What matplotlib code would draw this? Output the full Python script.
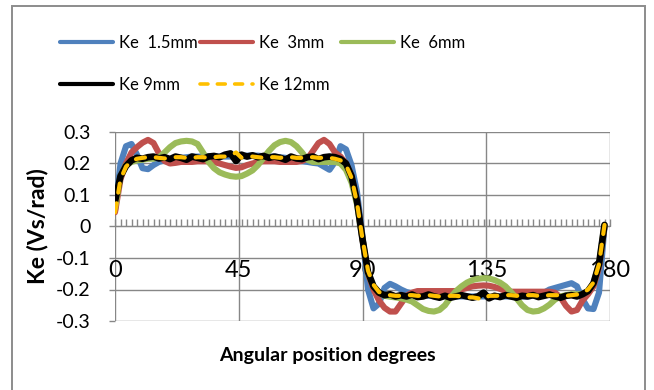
import matplotlib
matplotlib.use("Agg")
import matplotlib.pyplot as plt
from matplotlib.patches import Rectangle
from matplotlib.ticker import MultipleLocator

plt.rcParams["font.family"] = ["Lato", "DejaVu Sans"]

# angular position (degrees), one sample every 2 degrees
angle = list(range(0, 180, 2))

ke_1_5mm = [
    0.050, 0.200, 0.255, 0.262, 0.228, 0.185, 0.182, 0.195, 0.205, 0.210,
    0.212, 0.215, 0.218, 0.220, 0.222, 0.222, 0.222, 0.223, 0.222, 0.222,
    0.222, 0.222, 0.220, 0.222, 0.225, 0.225, 0.225, 0.223, 0.222, 0.222,
    0.220, 0.218, 0.215, 0.210, 0.207, 0.205, 0.202, 0.200, 0.190, 0.180,
    0.205, 0.255, 0.245, 0.195, 0.110, -0.030, -0.200, -0.260, -0.245, -0.195,
    -0.182, -0.190, -0.200, -0.208, -0.212, -0.215, -0.218, -0.220, -0.220, -0.220,
    -0.220, -0.222, -0.222, -0.222, -0.222, -0.222, -0.222, -0.222, -0.222, -0.222,
    -0.222, -0.222, -0.222, -0.222, -0.222, -0.222, -0.220, -0.218, -0.210, -0.200,
    -0.195, -0.190, -0.185, -0.180, -0.190, -0.230, -0.260, -0.262, -0.210, 0.000,
]
ke_3mm = [
    0.045, 0.150, 0.200, 0.235, 0.252, 0.266, 0.275, 0.265, 0.232, 0.208,
    0.200, 0.202, 0.205, 0.205, 0.205, 0.207, 0.207, 0.207, 0.205, 0.200,
    0.195, 0.190, 0.186, 0.188, 0.195, 0.200, 0.205, 0.207, 0.207, 0.207,
    0.205, 0.205, 0.205, 0.205, 0.208, 0.215, 0.240, 0.265, 0.275, 0.262,
    0.235, 0.222, 0.200, 0.160, 0.080, -0.040, -0.150, -0.200, -0.235, -0.258,
    -0.270, -0.270, -0.245, -0.220, -0.210, -0.205, -0.205, -0.205, -0.205, -0.205,
    -0.205, -0.205, -0.205, -0.200, -0.195, -0.190, -0.188, -0.187, -0.188, -0.192,
    -0.198, -0.205, -0.207, -0.207, -0.207, -0.207, -0.207, -0.207, -0.207, -0.207,
    -0.210, -0.225, -0.252, -0.270, -0.265, -0.235, -0.215, -0.190, -0.130, 0.000,
]
ke_6mm = [
    0.060, 0.160, 0.195, 0.205, 0.210, 0.212, 0.215, 0.215, 0.220, 0.235,
    0.252, 0.265, 0.270, 0.272, 0.270, 0.262, 0.235, 0.205, 0.185, 0.172,
    0.165, 0.160, 0.158, 0.160, 0.168, 0.178, 0.195, 0.218, 0.240, 0.258,
    0.268, 0.272, 0.268, 0.255, 0.235, 0.212, 0.205, 0.205, 0.205, 0.205,
    0.205, 0.200, 0.180, 0.140, 0.070, -0.040, -0.150, -0.190, -0.210, -0.220,
    -0.223, -0.225, -0.228, -0.232, -0.238, -0.250, -0.262, -0.268, -0.270, -0.265,
    -0.250, -0.225, -0.205, -0.190, -0.178, -0.170, -0.166, -0.164, -0.165, -0.170,
    -0.178, -0.190, -0.208, -0.228, -0.250, -0.265, -0.270, -0.268, -0.260, -0.248,
    -0.232, -0.222, -0.218, -0.215, -0.215, -0.215, -0.205, -0.180, -0.120, 0.005,
]
ke_9mm = [
    0.080, 0.160, 0.192, 0.210, 0.218, 0.215, 0.220, 0.222, 0.216, 0.220,
    0.214, 0.222, 0.218, 0.212, 0.222, 0.218, 0.214, 0.222, 0.224, 0.220,
    0.228, 0.232, 0.208, 0.228, 0.222, 0.226, 0.220, 0.224, 0.218, 0.222,
    0.218, 0.212, 0.222, 0.216, 0.214, 0.220, 0.222, 0.214, 0.220, 0.222,
    0.220, 0.214, 0.200, 0.160, 0.080, -0.040, -0.145, -0.190, -0.210, -0.218,
    -0.215, -0.222, -0.218, -0.222, -0.216, -0.224, -0.222, -0.216, -0.222, -0.226,
    -0.220, -0.226, -0.222, -0.218, -0.222, -0.226, -0.222, -0.210, -0.228, -0.220,
    -0.224, -0.218, -0.222, -0.226, -0.220, -0.222, -0.218, -0.224, -0.220, -0.216,
    -0.222, -0.226, -0.220, -0.218, -0.222, -0.215, -0.205, -0.180, -0.120, 0.005,
]
ke_12mm = [
    0.045, 0.150, 0.190, 0.208, 0.215, 0.218, 0.220, 0.220, 0.218, 0.216,
    0.218, 0.220, 0.220, 0.218, 0.218, 0.220, 0.220, 0.218, 0.220, 0.222,
    0.222, 0.225, 0.235, 0.218, 0.222, 0.222, 0.220, 0.218, 0.220, 0.220,
    0.218, 0.220, 0.220, 0.218, 0.218, 0.220, 0.220, 0.218, 0.218, 0.218,
    0.215, 0.210, 0.195, 0.155, 0.075, -0.040, -0.140, -0.185, -0.208, -0.215,
    -0.218, -0.220, -0.220, -0.218, -0.218, -0.220, -0.220, -0.218, -0.220, -0.222,
    -0.222, -0.220, -0.220, -0.222, -0.225, -0.225, -0.228, -0.232, -0.220, -0.220,
    -0.220, -0.218, -0.218, -0.220, -0.220, -0.218, -0.218, -0.220, -0.220, -0.218,
    -0.218, -0.218, -0.220, -0.218, -0.216, -0.212, -0.200, -0.178, -0.120, 0.005,
]

x_ticks = [0, 45, 90, 135, 180]
y_ticks = [-0.3, -0.2, -0.1, 0, 0.1, 0.2, 0.3]
y_tick_labels = ["-0.3", "-0.2", "-0.1", "0", "0.1", "0.2", "0.3"]

grid_col = "#878787"

fig = plt.figure(figsize=(6.54, 3.9), dpi=100)
ax = fig.add_axes([115 / 654, 1 - 321 / 390, 495 / 654, 189 / 390])

l1, = ax.plot(angle, ke_1_5mm, color="#4F81BD", lw=4.4, solid_capstyle="round", zorder=3)
l2, = ax.plot(angle, ke_3mm, color="#C0504D", lw=4.4, solid_capstyle="round", zorder=3)
l3, = ax.plot(angle, ke_6mm, color="#9BBB59", lw=4.4, solid_capstyle="round", zorder=3)
l4, = ax.plot(angle, ke_9mm, color="#000000", lw=4.8, solid_capstyle="round", zorder=4)
l5, = ax.plot(angle, ke_12mm, color="#FFC000", lw=3.0, linestyle=(0, (2.2, 2.6)),
              dash_capstyle="round", zorder=5)

ax.set_xlim(0, 180)
ax.set_ylim(-0.3, 0.3)
ax.set_yticks(y_ticks)
ax.set_yticklabels(y_tick_labels)
ax.set_xticks(x_ticks)
ax.set_xticklabels([str(t) for t in x_ticks])
ax.xaxis.set_minor_locator(MultipleLocator(2))

for s in ax.spines.values():
    s.set_visible(False)
ax.spines["bottom"].set_visible(True)
ax.spines["bottom"].set_position(("data", 0))
ax.spines["bottom"].set_color(grid_col)

ax.grid(True, which="major", color=grid_col, lw=1.0)
ax.tick_params(axis="x", which="both", direction="in", length=5, width=1,
               color=grid_col)
ax.tick_params(axis="x", which="major", labelsize=17, pad=24)
ax.tick_params(axis="y", direction="out", length=4.5, width=1,
               color=grid_col, pad=13, labelsize=14)

fig.text(327 / 654, 1 - 356 / 390, "Angular position degrees",
         ha="center", va="center", fontsize=14, fontweight="bold")
fig.text(37 / 654, 1 - 226 / 390, "Ke (Vs/rad)", rotation=90,
         ha="center", va="center", fontsize=16.5, fontweight="bold")

# legend entries placed like the original two-row layout
entries = [
    (l1, "Ke  1.5mm", 60, 43),
    (l2, "Ke  3mm", 200, 43),
    (l3, "Ke  6mm", 341, 43),
    (l4, "Ke 9mm", 60, 85),
    (l5, "Ke 12mm", 200, 85),
]
for h, lab, px, py in entries:
    leg = fig.legend([h], [lab], loc="center left",
                     bbox_to_anchor=(px / 654, 1 - py / 390),
                     frameon=False, borderpad=0, borderaxespad=0, handlelength=3.2,
                     handletextpad=0.35, fontsize=12)
    leg.get_lines()[0].set_linewidth(3.0 if h is not l5 else 2.6)

fig.add_artist(Rectangle((12 / 654, -0.05), 633 / 654, 1.05 - 6 / 390,
                         transform=fig.transFigure, fill=False,
                         ec="#8c8c8c", lw=1.4))

fig.savefig("out.png", dpi=100)
